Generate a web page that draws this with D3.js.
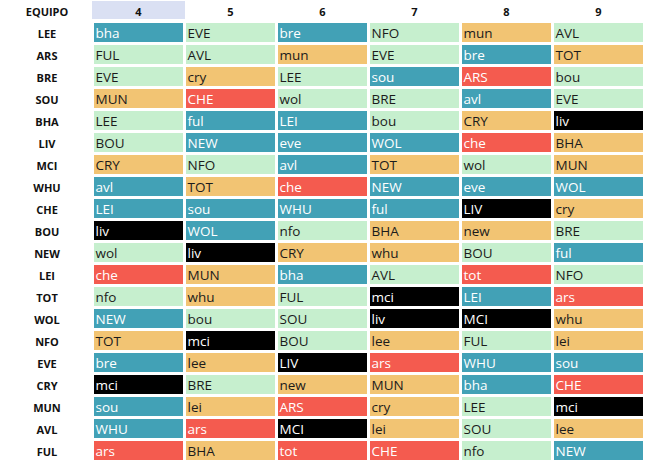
<!DOCTYPE html>
<html>
<head>
<meta charset="utf-8">
<script src="https://cdn.jsdelivr.net/npm/d3@7"></script>
<style>
  body { margin: 0; background: #fff; }
</style>
</head>
<body>
<div id="chart"></div>
<script>
// fixture grid data
const teams = ["LEE", "ARS", "BRE", "SOU", "BHA", "LIV", "MCI", "WHU", "CHE", "BOU",
  "NEW", "LEI", "TOT", "WOL", "NFO", "EVE", "CRY", "MUN", "AVL", "FUL"];
const gameweeks = ["4", "5", "6", "7", "8", "9"];

const fixtures = [
  ["bha", "EVE", "bre", "NFO", "mun", "AVL"],
  ["FUL", "AVL", "mun", "EVE", "bre", "TOT"],
  ["EVE", "cry", "LEE", "sou", "ARS", "bou"],
  ["MUN", "CHE", "wol", "BRE", "avl", "EVE"],
  ["LEE", "ful", "LEI", "bou", "CRY", "liv"],
  ["BOU", "NEW", "eve", "WOL", "che", "BHA"],
  ["CRY", "NFO", "avl", "TOT", "wol", "MUN"],
  ["avl", "TOT", "che", "NEW", "eve", "WOL"],
  ["LEI", "sou", "WHU", "ful", "LIV", "cry"],
  ["liv", "WOL", "nfo", "BHA", "new", "BRE"],
  ["wol", "liv", "CRY", "whu", "BOU", "ful"],
  ["che", "MUN", "bha", "AVL", "tot", "NFO"],
  ["nfo", "whu", "FUL", "mci", "LEI", "ars"],
  ["NEW", "bou", "SOU", "liv", "MCI", "whu"],
  ["TOT", "mci", "BOU", "lee", "FUL", "lei"],
  ["bre", "lee", "LIV", "ars", "WHU", "sou"],
  ["mci", "BRE", "new", "MUN", "bha", "CHE"],
  ["sou", "lei", "ARS", "cry", "LEE", "mci"],
  ["WHU", "ars", "MCI", "lei", "SOU", "lee"],
  ["ars", "BHA", "tot", "CHE", "nfo", "NEW"]
];

// difficulty: 2 easy ... 5 hard, 6 hardest
const difficulty = [
  [3, 2, 3, 2, 4, 2],
  [2, 2, 4, 2, 3, 4],
  [2, 4, 2, 3, 5, 2],
  [4, 5, 2, 2, 3, 2],
  [2, 3, 3, 2, 4, 6],
  [2, 3, 3, 3, 5, 4],
  [4, 2, 3, 4, 2, 4],
  [3, 4, 5, 3, 3, 3],
  [3, 3, 3, 3, 6, 4],
  [6, 3, 2, 4, 4, 2],
  [2, 6, 4, 4, 2, 3],
  [5, 4, 3, 2, 5, 2],
  [2, 4, 2, 6, 3, 5],
  [3, 2, 2, 6, 6, 4],
  [4, 6, 2, 4, 2, 4],
  [3, 4, 6, 5, 3, 3],
  [6, 2, 4, 4, 3, 5],
  [3, 4, 5, 4, 2, 6],
  [3, 5, 6, 4, 2, 4],
  [5, 4, 5, 5, 2, 3]
];

const width = 645, height = 462;

const svg = d3.select("#chart").append("svg")
  .attr("width", width)
  .attr("height", height);

// scales
const x = d3.scaleBand()
  .domain(gameweeks)
  .range([94, 643])
  .paddingInner(3 / 92);

const y = d3.scaleBand()
  .domain(teams)
  .range([23, 460])
  .paddingInner(3 / 22);

const fill = d3.scaleOrdinal()
  .domain([2, 3, 4, 5, 6])
  .range(["#c6efce", "#42a1b6", "#f2c473", "#f45b4f", "#000000"]);

const textFill = d3.scaleOrdinal()
  .domain([2, 3, 4, 5, 6])
  .range(["#1b1b1b", "#ffffff", "#1b1b1b", "#ffffff", "#ffffff"]);

// header highlight for current gameweek
svg.append("rect")
  .attr("x", x(gameweeks[0]) - 2)
  .attr("y", 1)
  .attr("width", x.step() + 1)
  .attr("height", 18)
  .attr("fill", "#dae0f3");

svg.append("text")
  .attr("x", 47)
  .attr("y", 16)
  .attr("text-anchor", "middle")
  .style("font-family", "'Open Sans', sans-serif")
  .style("font-size", "11px")
  .style("font-weight", "bold")
  .attr("fill", "#111")
  .text("EQUIPO");

svg.selectAll(".gw")
  .data(gameweeks)
  .join("text")
  .attr("class", "gw")
  .attr("x", d => x(d) + x.bandwidth() / 2)
  .attr("y", 16)
  .attr("text-anchor", "middle")
  .style("font-family", "'Open Sans', sans-serif")
  .style("font-size", "11px")
  .style("font-weight", "bold")
  .attr("fill", "#111")
  .text(d => d);

svg.selectAll(".team")
  .data(teams)
  .join("text")
  .attr("class", "team")
  .attr("x", 47)
  .attr("y", d => y(d) + 14.5)
  .attr("text-anchor", "middle")
  .style("font-family", "'Open Sans', sans-serif")
  .style("font-size", "11px")
  .style("font-weight", "bold")
  .attr("fill", "#111")
  .text(d => d);

// flatten cells
const cells = [];
teams.forEach((t, i) => {
  gameweeks.forEach((g, j) => {
    cells.push({ team: t, gw: g, opp: fixtures[i][j], level: difficulty[i][j] });
  });
});

const cell = svg.selectAll(".cell")
  .data(cells)
  .join("g")
  .attr("class", "cell")
  .attr("transform", d => `translate(${x(d.gw)},${y(d.team)})`);

cell.append("rect")
  .attr("width", x.bandwidth())
  .attr("height", y.bandwidth())
  .attr("fill", d => fill(d.level));

cell.append("text")
  .attr("x", 1.5)
  .attr("y", 14.5)
  .style("font-family", "'Open Sans', sans-serif")
  .style("font-size", "13.5px")
  .attr("fill", d => textFill(d.level))
  .text(d => d.opp);
</script>
</body>
</html>
